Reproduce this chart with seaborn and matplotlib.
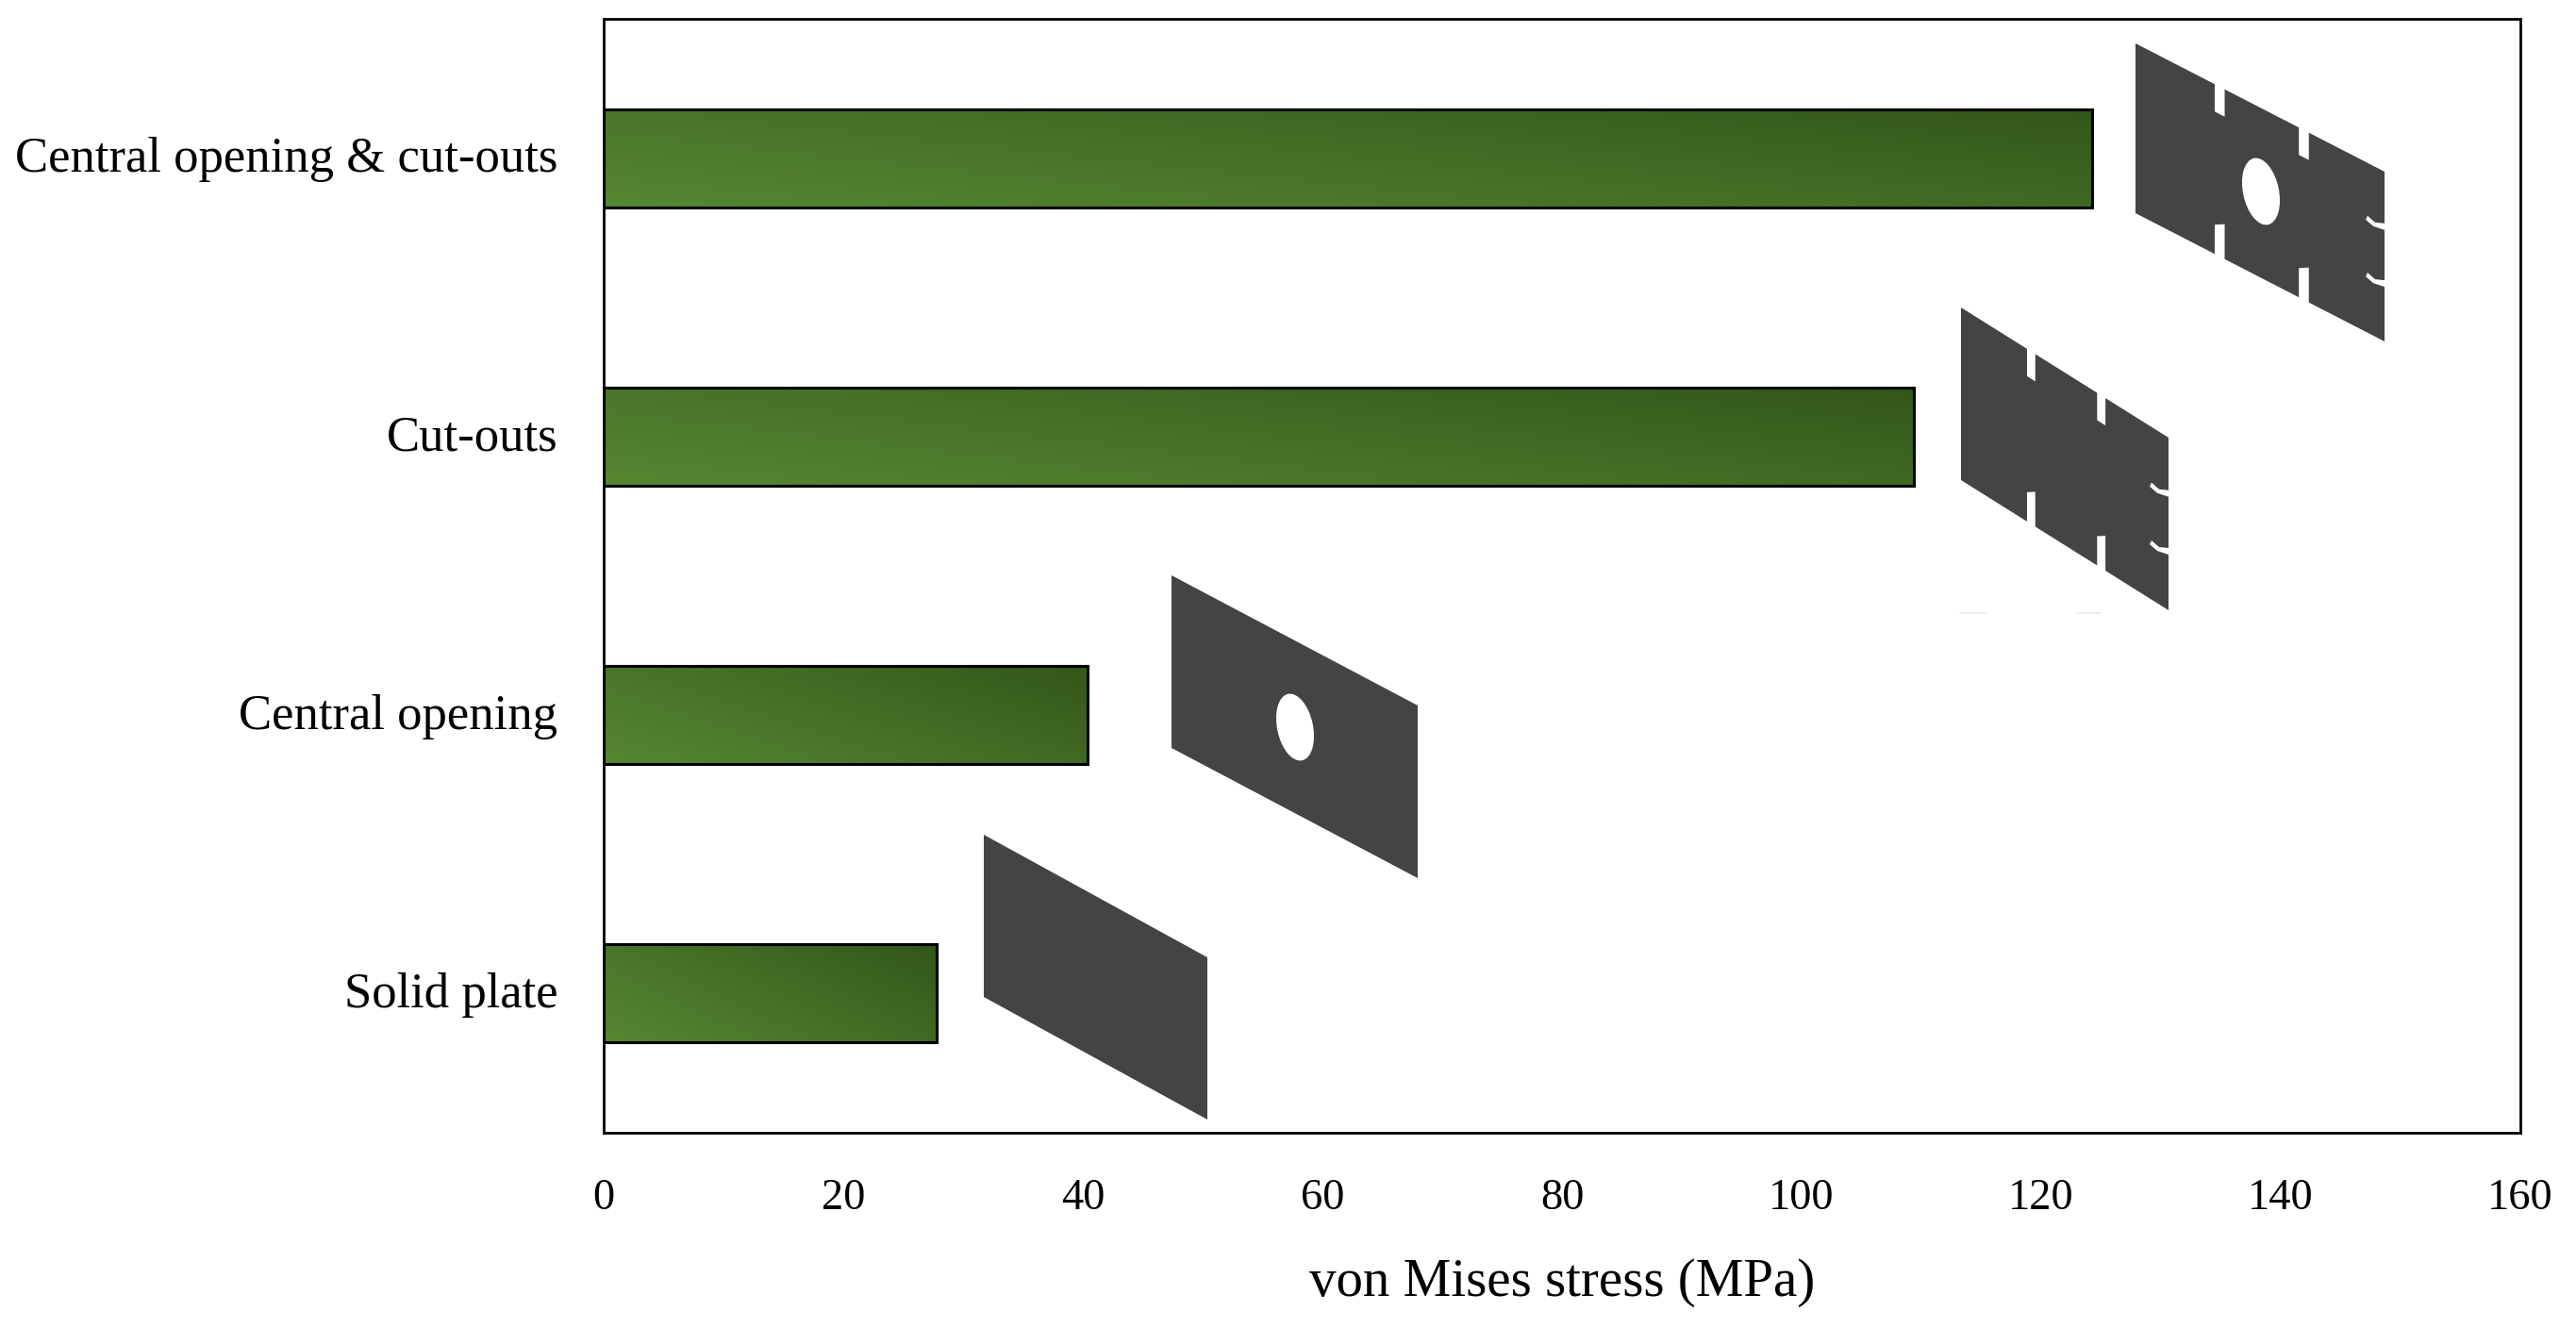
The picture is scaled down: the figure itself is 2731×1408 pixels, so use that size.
import numpy as np
import pandas as pd
import matplotlib
matplotlib.use('Agg')
import matplotlib.pyplot as plt
from matplotlib.colors import LinearSegmentedColormap
from matplotlib.lines import Line2D
from matplotlib.patches import Ellipse, PathPatch
from matplotlib.path import Path
from matplotlib.transforms import ScaledTranslation
import seaborn as sns

# Dados
categorias = ['Central opening & cut-outs', 'Cut-outs', 'Central opening', 'Solid plate']
tensoes = [124.25, 109.4, 40.4, 27.8]
ticks_x = [0, 20, 40, 60, 80, 100, 120, 140, 160]

W, H = 2731, 1408
COR_PLACA = '#444444'


def fx(px):
    return px / W


def fy(py):
    return 1 - py / H


def desenhar_placa(fig, x0, y0, w, h, dy, cortes=False, furo=None):
    """Desenha a placa em perspectiva, coordenadas em pixels da imagem"""
    def pt(u, v):
        # u ao longo da largura, v em pixels descendo a altura
        return (x0 + u * w, y0 + u * dy + v)

    pts = [pt(0, 0)]
    if cortes:
        for a, b in [(0.318, 0.358), (0.656, 0.696)]:
            pts += [pt(a, 0), pt(a, 29), pt(b, 29), pt(b, 0)]
    pts.append(pt(1, 0))
    if cortes:
        xd = x0 + w
        for v in [0.31, 0.645]:
            yc = y0 + dy + v * h
            # fenda curva na borda direita
            pts += [(xd, yc - 1), (xd - 10, yc - 2), (xd - 18, yc - 9),
                    (xd - 20, yc - 5), (xd - 12, yc + 2), (xd, yc + 6)]
    pts.append(pt(1, h))
    if cortes:
        for a, b in [(0.696, 0.656), (0.358, 0.318)]:
            pts += [pt(a, h), pt(a, h - 37), pt(b, h - 31), pt(b, h)]
    pts.append(pt(0, h))

    norm = [(fx(px), fy(py)) for px, py in pts]
    cods = [Path.MOVETO] + [Path.LINETO] * (len(norm) - 1) + [Path.CLOSEPOLY]
    caminho = Path(norm + [norm[0]], cods)
    fig.add_artist(PathPatch(caminho, transform=fig.transFigure, facecolor=COR_PLACA,
                             edgecolor='none', zorder=5))
    if furo is not None:
        # transform None: elipse direto em pixels da figura
        fig.add_artist(Ellipse((furo[0], H - furo[1]), 38, 72, angle=12, facecolor='white',
                               edgecolor='none', transform=None, zorder=6))


def gradiente_barras(ax):
    """Preenche as barras com o gradiente verde diagonal"""
    cmap = LinearSegmentedColormap.from_list('verde', ['#568732', '#33571a'])
    for barra in ax.patches:
        x0, y0 = barra.get_x(), barra.get_y()
        x1, y1 = x0 + barra.get_width(), y0 + barra.get_height()
        u, v = np.meshgrid(np.linspace(0, 1, 300), np.linspace(0, 1, 40))
        # v = 0 em cima da barra, u = 0 na esquerda
        grad = 0.62 * u + 0.38 * (1 - v)
        im = ax.imshow(grad, extent=(x0, x1, y1, y0), aspect='auto', cmap=cmap,
                       vmin=0, vmax=1, zorder=1.5)
        im.set_clip_path(barra)
        barra.set_facecolor('none')
        barra.set_zorder(2)


def main():
    sns.set_theme(style='white')
    plt.rcParams['font.family'] = ['Liberation Serif', 'DejaVu Serif']

    df = pd.DataFrame({'categoria': categorias, 'tensao': tensoes})

    fig = plt.figure(figsize=(W / 100, H / 100), dpi=100, facecolor='white')
    ax = fig.add_axes([fx(640), fy(1201), fx(2672 - 640), (1201 - 20) / H])

    sns.barplot(data=df, x='tensao', y='categoria', orient='h', width=0.352, color='#446f25',
                edgecolor='black', linewidth=2.2, saturation=1, ax=ax)
    ax.set_xlim(0, 160)
    ax.set_ylim(3.5, -0.5)
    gradiente_barras(ax)
    ax.set_xlim(0, 160)
    ax.set_ylim(3.5, -0.5)

    ax.set_xticks(ticks_x)
    ax.tick_params(axis='x', length=0, pad=35, labelsize=33.5, labelcolor='black')
    ax.tick_params(axis='y', length=0, pad=35, labelsize=38, labelcolor='black')
    ax.set_ylabel('')
    ax.set_xlabel('von Mises stress (MPa)', fontsize=41, labelpad=30, color='black')
    for lado in ax.spines.values():
        lado.set_visible(True)
        lado.set_color('black')
        lado.set_linewidth(2)

    # Rótulos do eixo y um pouco acima do centro da barra
    desloc = ScaledTranslation(0, 4 / 100, fig.dpi_scale_trans)
    for rotulo in ax.get_yticklabels():
        rotulo.set_transform(rotulo.get_transform() + desloc)

    # Placas ilustrativas ao lado das barras
    desenhar_placa(fig, 2264, 46, 264, 180, 136, cortes=True, furo=(2397, 203))
    desenhar_placa(fig, 2079, 326, 220, 183, 138, cortes=True)
    desenhar_placa(fig, 1242, 610, 261, 183, 138, furo=(1373, 771))
    desenhar_placa(fig, 1043, 885, 237, 172, 130)

    # Restos claros logo abaixo da placa com recortes
    for xa, xb in [(2078, 2105), (2203, 2227)]:
        fig.add_artist(Line2D([fx(xa), fx(xb)], [fy(650), fy(650)], color='#eeeeee', lw=1.5))

    fig.savefig('out.png', dpi=100, facecolor='white')


if __name__ == "__main__":
    main()
